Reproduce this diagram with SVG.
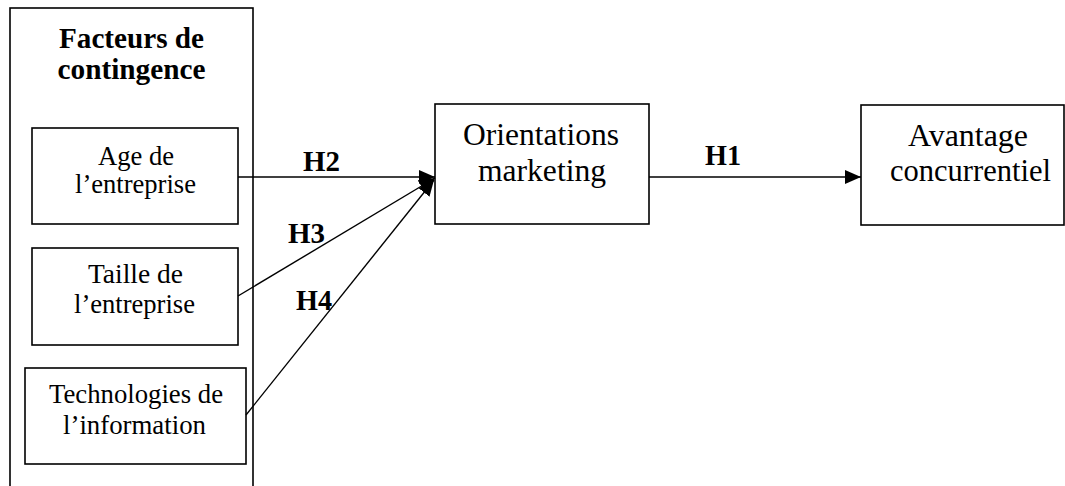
<svg xmlns="http://www.w3.org/2000/svg" width="1065" height="486" viewBox="0 0 1065 486">
<defs>
<style>
.box{fill:#fff;stroke:#000;stroke-width:1.6}
.t{font-family:"Liberation Serif","Times New Roman",serif;fill:#000;text-anchor:middle}
.s{font-size:26.5px}
.b{font-size:29px;font-weight:bold}
.l{font-size:31px}
.h{font-family:"Liberation Serif","Times New Roman",serif;font-size:29px;font-weight:bold;fill:#000}
.c{fill:none;stroke:#000;stroke-width:1.4}
</style>
<marker id="arr" markerUnits="userSpaceOnUse" markerWidth="17" markerHeight="15" refX="16" refY="7" orient="auto">
<path d="M0,0 L16,7 L0,14 z" fill="#000"/>
</marker>
</defs>
<rect width="1065" height="486" fill="#fff"/>
<g id="contingence">
<rect class="box" x="10" y="8" width="243" height="484"/>
<text class="t b" x="131.5" y="48" textLength="145" lengthAdjust="spacingAndGlyphs">Facteurs de</text>
<text class="t b" x="131.5" y="79" textLength="148" lengthAdjust="spacingAndGlyphs">contingence</text>
</g>
<g id="age">
<rect class="box" x="32" y="128" width="206" height="96"/>
<text class="t s" x="136" y="165" textLength="76" lengthAdjust="spacingAndGlyphs">Age de</text>
<text class="t s" x="135.5" y="193" textLength="121" lengthAdjust="spacingAndGlyphs">l’entreprise</text>
</g>
<g id="taille">
<rect class="box" x="32" y="248" width="206" height="97"/>
<text class="t s" x="135.5" y="283" textLength="95" lengthAdjust="spacingAndGlyphs">Taille de</text>
<text class="t s" x="134.5" y="313" textLength="121" lengthAdjust="spacingAndGlyphs">l’entreprise</text>
</g>
<g id="technologies">
<rect class="box" x="25" y="368" width="221" height="96"/>
<text class="t s" x="136" y="403" textLength="174" lengthAdjust="spacingAndGlyphs">Technologies de</text>
<text class="t s" x="134.5" y="434" textLength="143" lengthAdjust="spacingAndGlyphs">l’information</text>
</g>
<g id="orientations">
<rect class="box" x="435" y="104" width="214" height="120"/>
<text class="t l" x="541" y="145" textLength="156" lengthAdjust="spacingAndGlyphs">Orientations</text>
<text class="t l" x="542" y="181" textLength="128" lengthAdjust="spacingAndGlyphs">marketing</text>
</g>
<g id="avantage">
<rect class="box" x="861" y="105" width="203" height="120"/>
<text class="t l" x="968" y="146" textLength="120" lengthAdjust="spacingAndGlyphs">Avantage</text>
<text class="t l" x="970.5" y="181" textLength="161" lengthAdjust="spacingAndGlyphs">concurrentiel</text>
</g>
<g id="connectors">
<line class="c" x1="238" y1="177" x2="435" y2="177" marker-end="url(#arr)"/>
<line class="c" x1="238" y1="296" x2="435" y2="178" marker-end="url(#arr)"/>
<line class="c" x1="246" y1="415" x2="434" y2="180" marker-end="url(#arr)"/>
<line class="c" x1="649" y1="177" x2="861" y2="177" marker-end="url(#arr)"/>
<text class="h" x="303" y="171" textLength="37" lengthAdjust="spacingAndGlyphs">H2</text>
<text class="h" x="288" y="243" textLength="37" lengthAdjust="spacingAndGlyphs">H3</text>
<text class="h" x="296" y="310" textLength="36" lengthAdjust="spacingAndGlyphs">H4</text>
<text class="h" x="705" y="165" textLength="36" lengthAdjust="spacingAndGlyphs">H1</text>
</g>
</svg>
